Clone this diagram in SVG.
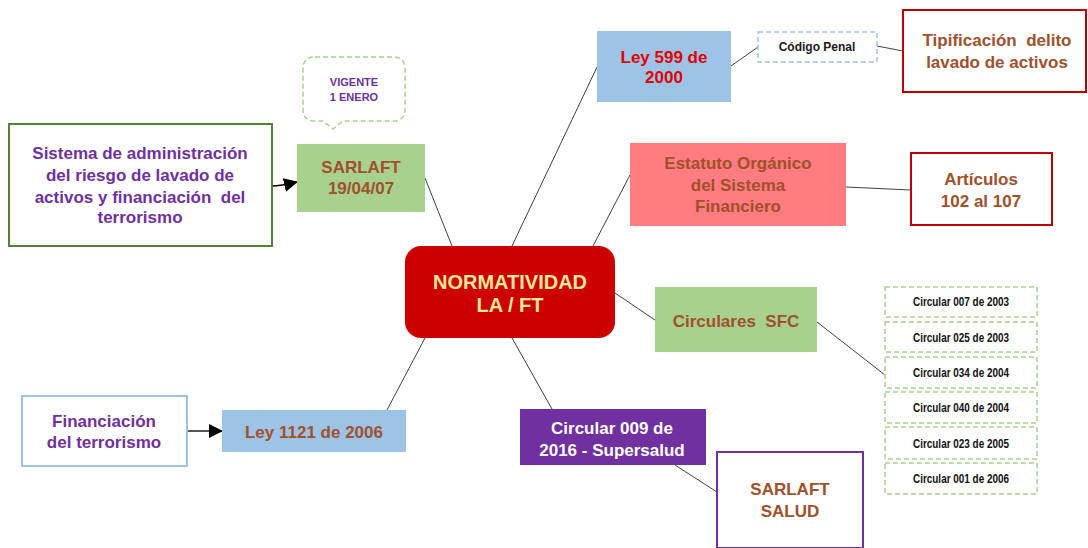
<svg xmlns="http://www.w3.org/2000/svg" width="1088" height="548" viewBox="0 0 1088 548">
<style>
text{font-family:"Liberation Sans",Arial,sans-serif;font-weight:bold;text-anchor:middle;white-space:pre}
.t16{font-size:17px}
.br{fill:#A0502A}
.pu{fill:#7030A0}
.cir{font-size:12px;fill:#111}
.cbox{fill:#fff;stroke:#A9D18E;stroke-width:1.5;stroke-dasharray:5 3}
.ln{stroke:#404040;stroke-width:1;fill:none}
</style>
<defs>
<marker id="ah" markerWidth="14" markerHeight="14" refX="13" refY="7" orient="auto" markerUnits="userSpaceOnUse" viewBox="0 0 14 14">
<path d="M0,0 L14,7 L0,14 z" fill="#000"/>
</marker>
</defs>
<rect width="1088" height="548" fill="#fff"/>
<g id="connectors">
<line class="ln" x1="452" y1="246" x2="425" y2="178"/>
<line class="ln" x1="512" y1="246" x2="597" y2="67"/>
<line class="ln" x1="593" y1="246" x2="630" y2="175"/>
<line class="ln" x1="615" y1="293" x2="655" y2="320"/>
<line class="ln" x1="425" y1="338" x2="387" y2="410"/>
<line class="ln" x1="512" y1="338" x2="552" y2="409"/>
<line class="ln" x1="731" y1="66" x2="758" y2="47"/>
<line class="ln" x1="877" y1="46" x2="903" y2="51"/>
<line class="ln" x1="846" y1="187" x2="911" y2="190"/>
<line class="ln" x1="817" y1="322" x2="885" y2="375"/>
<line class="ln" x1="675" y1="465" x2="717" y2="492"/>
<path d="M272,186 Q280,186 297,182" stroke="#000" stroke-width="1.5" fill="none" marker-end="url(#ah)"/>
<line x1="187" y1="431" x2="222" y2="431" stroke="#555" stroke-width="2" marker-end="url(#ah)"/>
</g>
<g id="center">
<rect x="405" y="246" width="210" height="92" rx="16" fill="#CC0000"/>
<text x="510" y="289" font-size="20" fill="#FFE699">NORMATIVIDAD</text>
<text x="510" y="312" font-size="20" fill="#FFE699">LA / FT</text>
</g>
<g id="sistema">
<rect x="9" y="124" width="263" height="122" fill="#fff" stroke="#538135" stroke-width="2"/>
<text class="t16 pu" x="140" y="159">Sistema de administración</text>
<text class="t16 pu" x="140" y="181">del riesgo de lavado de</text>
<text class="t16 pu" x="140" y="203">activos y financiación  del</text>
<text class="t16 pu" x="140" y="223">terrorismo</text>
</g>
<g id="sarlaft">
<rect x="297" y="144" width="128" height="68" fill="#A9D18E"/>
<text class="t16 br" x="361" y="173">SARLAFT</text>
<text class="t16 br" x="361" y="194">19/04/07</text>
</g>
<g id="vigente">
<path d="M315,57 H393 Q405,57 405,69 V109 Q405,121 393,121 H343 L333,129 L323,121 H315 Q303,121 303,109 V69 Q303,57 315,57 Z" fill="#fff" stroke="#A9D18E" stroke-width="1.5" stroke-dasharray="5 3"/>
<text x="354" y="86" font-size="11" class="pu">VIGENTE</text>
<text x="354" y="101" font-size="11" class="pu">1 ENERO</text>
</g>
<g id="ley599">
<rect x="597" y="31" width="134" height="71" fill="#9DC3E6"/>
<text class="t16" x="664" y="63" fill="#E00000">Ley 599 de</text>
<text class="t16" x="664" y="83" fill="#E00000">2000</text>
</g>
<g id="codigo">
<rect x="758" y="32" width="119" height="30" fill="#fff" stroke="#9DC3E6" stroke-width="1.5" stroke-dasharray="5 3"/>
<text x="817" y="51" font-size="12" fill="#1a1a1a">Código Penal</text>
</g>
<g id="tipificacion">
<rect x="903" y="10" width="183" height="82" fill="#fff" stroke="#C00000" stroke-width="2"/>
<text class="t16 br" x="997" y="46">Tipificación  delito</text>
<text class="t16 br" x="997" y="68">lavado de activos</text>
</g>
<g id="estatuto">
<rect x="630" y="143" width="216" height="83" fill="#FF7C80"/>
<text class="t16 br" x="738" y="169">Estatuto Orgánico</text>
<text class="t16 br" x="738" y="191">del Sistema</text>
<text class="t16 br" x="738" y="212">Financiero</text>
</g>
<g id="articulos">
<rect x="911" y="153" width="141" height="72" fill="#fff" stroke="#C00000" stroke-width="2"/>
<text class="t16 br" x="981" y="185">Artículos</text>
<text class="t16 br" x="981" y="207">102 al 107</text>
</g>
<g id="circulares">
<rect x="655" y="287" width="162" height="65" fill="#A9D18E"/>
<text class="t16 br" x="736" y="327">Circulares  SFC</text>
</g>
<g id="circ1"><rect class="cbox" x="885" y="287" width="152" height="30"/><text class="cir" x="961" y="306" textLength="96" lengthAdjust="spacingAndGlyphs">Circular 007 de 2003</text></g>
<g id="circ2"><rect class="cbox" x="885" y="322" width="152" height="30"/><text class="cir" x="961" y="342" textLength="96" lengthAdjust="spacingAndGlyphs">Circular 025 de 2003</text></g>
<g id="circ3"><rect class="cbox" x="885" y="357" width="152" height="31"/><text class="cir" x="961" y="377" textLength="96" lengthAdjust="spacingAndGlyphs">Circular 034 de 2004</text></g>
<g id="circ4"><rect class="cbox" x="885" y="392" width="152" height="31"/><text class="cir" x="961" y="412" textLength="96" lengthAdjust="spacingAndGlyphs">Circular 040 de 2004</text></g>
<g id="circ5"><rect class="cbox" x="885" y="427" width="152" height="32"/><text class="cir" x="961" y="448" textLength="96" lengthAdjust="spacingAndGlyphs">Circular 023 de 2005</text></g>
<g id="circ6"><rect class="cbox" x="885" y="463" width="152" height="31"/><text class="cir" x="961" y="483" textLength="96" lengthAdjust="spacingAndGlyphs">Circular 001 de 2006</text></g>
<g id="financiacion">
<rect x="22" y="396" width="165" height="70" fill="#fff" stroke="#9DC3E6" stroke-width="2"/>
<text class="t16 pu" x="104" y="427">Financiación</text>
<text class="t16 pu" x="104" y="448">del terrorismo</text>
</g>
<g id="ley1121">
<rect x="222" y="410" width="184" height="42" fill="#9DC3E6"/>
<text class="t16 br" x="314" y="438">Ley 1121 de 2006</text>
</g>
<g id="circular009">
<rect x="520" y="409" width="186" height="56" fill="#7030A0"/>
<text class="t16" x="612" y="434" fill="#fff">Circular 009 de</text>
<text class="t16" x="612" y="456" fill="#fff">2016 - Supersalud</text>
</g>
<g id="salud">
<rect x="717" y="452" width="146" height="96" fill="#fff" stroke="#7030A0" stroke-width="2"/>
<text class="t16 br" x="790" y="495">SARLAFT</text>
<text class="t16 br" x="790" y="517">SALUD</text>
</g>
</svg>
